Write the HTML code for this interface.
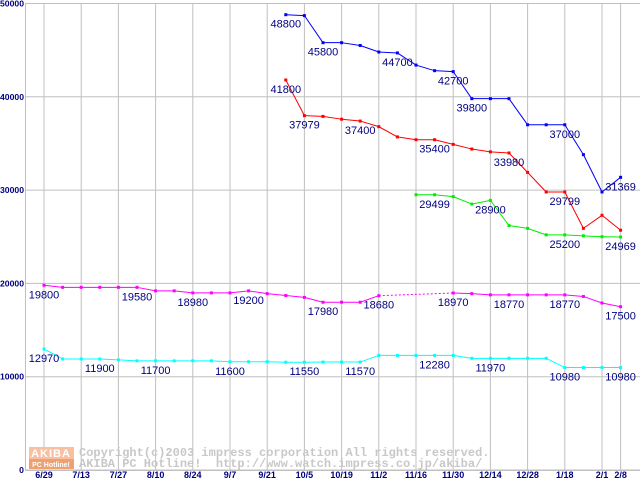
<!DOCTYPE html>
<html><head><meta charset="utf-8"><style>
body{margin:0;background:#fff;}
svg{display:block;font-family:"Liberation Sans",sans-serif;}
</style></head><body>
<svg id="chart" width="640" height="480" viewBox="0 0 640 480"></svg>
<script>
const categories=["6/29","7/6","7/13","7/20","7/27","8/3","8/10","8/17","8/24","8/31","9/7","9/14","9/21","9/28","10/5","10/12","10/19","10/26","11/2","11/9","11/16","11/23","11/30","12/7","12/14","12/21","12/28","1/11","1/18","1/25","2/1","2/8"];
const tickLabelIdx=[0,2,4,6,8,10,12,14,16,18,20,22,24,26,28,30,31];
const yTicks=[0,10000,20000,30000,40000,50000];
const N=null;
const blue=[N,N,N,N,N,N,N,N,N,N,N,N,N,48800,48700,45800,45800,45500,44800,44700,43400,42800,42700,39800,39800,39800,37000,37000,37000,33800,29800,31369];
const red=[N,N,N,N,N,N,N,N,N,N,N,N,N,41800,37979,37900,37600,37400,36800,35700,35400,35400,34900,34400,34100,33980,31900,29799,29799,25900,27300,25700];
const green=[N,N,N,N,N,N,N,N,N,N,N,N,N,N,N,N,N,N,N,N,29499,29499,29300,28500,28900,26200,25900,25200,25200,25100,25000,24969];
const magenta=[19800,19580,19580,19580,19580,19580,19200,19200,18980,18980,18980,19200,18900,18700,18500,17980,17980,17980,18680,N,N,N,18970,18900,18770,18770,18770,18770,18770,18600,17900,17500];
const cyan=[12970,11900,11900,11900,11800,11700,11700,11700,11700,11700,11600,11600,11600,11550,11550,11570,11570,11570,12280,12280,12280,12280,12280,11970,11970,11970,11970,11970,10980,10980,10980,10980];
const blueLabels=[13,15,19,22,23,28,31];
const redLabels=[13,14,17,21,25,28];
const greenLabels=[21,24,28,31];
const magentaLabels=[0,5,8,11,15,18,22,25,28,31];
const cyanLabels=[0,3,6,10,14,17,21,24,28,31];

const NS="http://www.w3.org/2000/svg";
const svg=document.getElementById('chart');
const X0=44,DX=18.6,Y0=470,KY=466.5/50000;
function xs(i){return X0+i*DX;}
function ys(v){return Y0-v*KY;}
function mk(tag,attrs,parent){const e=document.createElementNS(NS,tag);for(const k in attrs)e.setAttribute(k,attrs[k]);(parent||svg).appendChild(e);return e;}

const grid=mk('g',{});


yTicks.forEach(v=>{
  const l=mk('line',{x1:25,x2:640,y1:ys(v),y2:ys(v),stroke:'#c0c0c0','stroke-width':1},grid);
  
  
  const w=String(v).length*4.8;
  const t=mk('text',{x:24-w,y:ys(v)+3,'font-size':8,'font-weight':'bold',fill:'#000080',textLength:w,lengthAdjust:'spacingAndGlyphs'});
  t.textContent=v;
  
  
});
tickLabelIdx.forEach(i=>{
  const l=mk('line',{x1:xs(i),x2:xs(i),y1:4,y2:470,stroke:'#c0c0c0','stroke-width':1},grid);
  
  
  const t=mk('text',{x:xs(i),y:478,'text-anchor':'middle','font-size':9,'font-weight':'bold',fill:'#000080'});
  t.textContent=categories[i];
  
  
});
const ax=mk('path',{d:'M25.5 3V470.5H640',stroke:'#c0c0c0',fill:'none','stroke-width':1});



const wm=mk('g',{});


mk('rect',{x:29,y:447,width:45,height:12,fill:'#f8c0a0'},wm);
mk('rect',{x:29,y:459,width:45,height:10,fill:'#f0a070'},wm);
const l1=mk('text',{x:51,y:457,'text-anchor':'middle','font-size':11,'font-weight':'bold',fill:'#fff','letter-spacing':1},wm);l1.textContent='AKIBA';
const l2=mk('text',{x:51,y:467,'text-anchor':'middle','font-size':7,'font-weight':'bold',fill:'#fff'},wm);l2.textContent='PC Hotline!';
const c1=mk('text',{x:79,y:456,'font-size':12,'font-family':'Liberation Mono, monospace','font-weight':'bold',fill:'#c8c8c8',style:'white-space:pre'},wm);c1.textContent='Copyright(c)2003 impress corporation All rights reserved.';
const c2=mk('text',{x:79,y:467,'font-size':12,'font-family':'Liberation Mono, monospace','font-weight':'bold',fill:'#c8c8c8',style:'white-space:pre'},wm);c2.textContent='AKIBA PC Hotline!  http://www.watch.impress.co.jp/akiba/';

function series(name,data,color,labels){
  const g=mk('g',{});
  
  
  let prev=-1;
  const segs=[];
  data.forEach((v,i)=>{if(v==null)return; if(prev>=0)segs.push({dash:i-prev>1,a:prev,b:i}); prev=i;});
  segs.forEach(s=>{
    const l=mk('line',{x1:xs(s.a),y1:ys(data[s.a]),x2:xs(s.b),y2:ys(data[s.b]),stroke:color,'stroke-width':1},g);
    if(s.dash)l.setAttribute('stroke-dasharray','2 2');
    
    
  });
  data.forEach((v,i)=>{if(v==null)return;
    const r=mk('rect',{x:xs(i)-1.5,y:ys(v)-1.5,width:3,height:3,fill:color},g);
    
    
  });
  labels.forEach(i=>{
    const t=mk('text',{x:xs(i),y:ys(data[i])+13,'text-anchor':'middle','font-size':11,fill:'#000080'},g);
    t.textContent=data[i];
    
    
  });
}
series('blue',blue,'#0000ff',blueLabels);
series('red',red,'#ff0000',redLabels);
series('green',green,'#00ee00',greenLabels);
series('magenta',magenta,'#ff00ff',magentaLabels);
series('cyan',cyan,'#00ffff',cyanLabels);
</script>
</body></html>
